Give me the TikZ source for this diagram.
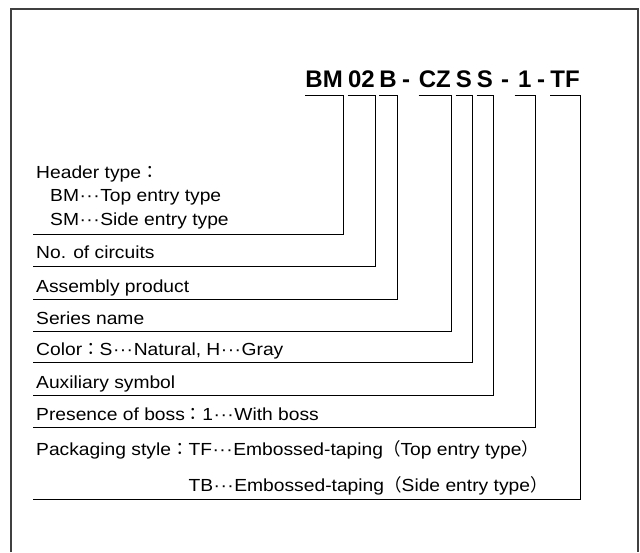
\documentclass[tikz,border=0pt]{standalone}
\usepackage{fontspec}
\setmainfont[FakeStretch=1.1]{Liberation Sans}
\newfontfamily\codefont{Liberation Sans}
\newfontfamily\cjk{Noto Sans CJK JP}
\newcommand{\fc}{{\cjk ：}}
\newcommand{\tdots}{\hspace{0.6pt}·\hspace{0.4pt}·\hspace{0.4pt}·\hspace{0.6pt}}
\newcommand{\lp}{{\cjk （}}
\newcommand{\rp}{{\cjk ）}}

\begin{document}
\begin{tikzpicture}[x=1pt,y=-1pt]
        \tikzstyle{every node}=[inner sep=0pt, text=black]
        \tikzstyle{code}=[font=\codefont\bfseries\fontsize{24}{28}\selectfont, anchor=base east]
        \tikzstyle{label}=[font=\fontsize{17.5}{21}\selectfont, anchor=base west]
        \tikzstyle{lead}=[black, line width=0.8pt]

        \useasboundingbox (0,0) rectangle (640,552);
        \draw[black!75, line width=1.2pt] (11,552) -- (11,9) -- (638,9) -- (638,552);

        % part number
        \node[code] (bm) at (343,87) {BM};
        \node[code] (nc) at (375,87) {02};
        \node[code] (ap) at (397,87) {B};
        \node[code, anchor=base] (h1) at (406,87) {-};
        \node[code] (sn) at (451,87) {CZ};
        \node[code] (cl) at (472,87) {S};
        \node[code] (ax) at (493,87) {S};
        \node[code, anchor=base] (h2) at (505,87) {-};
        \node[code, minimum width=20pt] (bs) at (535,87) {1};
        \node[code, anchor=base] (h3) at (541,87) {-};
        \node[code] (pk) at (580,87) {TF};

        % explanations
        \node[label] (hd)    at (36,178) {Header type\fc};
        \node[label] (hd-bm) at (50,201) {BM\tdots Top entry type};
        \node[label] (hd-sm) at (50,225) {SM\tdots Side entry type};
        \node[label] (nc-t)  at (36,258) {No. of circuits};
        \node[label] (ap-t)  at (36,292) {Assembly product};
        \node[label] (sn-t)  at (36,324) {Series name};
        \node[label] (cl-t)  at (36,355) {Color\fc S\tdots Natural, H\tdots Gray};
        \node[label] (ax-t)  at (36,388) {Auxiliary symbol};
        \node[label] (bs-t)  at (36,420) {Presence of boss\fc 1\tdots With boss};
        \node[label] (pk-tf) at (36,455) {Packaging style\fc TF\tdots Embossed-taping\lp Top entry type\rp};
        \node[label] (pk-tb) at (36,491) {\phantom{Packaging style\fc}TB\tdots Embossed-taping\lp Side entry type\rp};

        \coordinate (hd-l) at (33,234);
        \coordinate (nc-l) at (33,266);
        \coordinate (ap-l) at (33,299);
        \coordinate (sn-l) at (33,331);
        \coordinate (cl-l) at (33,362);
        \coordinate (ax-l) at (33,395);
        \coordinate (bs-l) at (33,427);
        \coordinate (pk-l) at (33,499);

        % leaders
        \draw[lead] ([yshift=-8pt]bm.base west) -- ([yshift=-8pt]bm.base east) |- (hd-l);
        \draw[lead] ([yshift=-8pt]nc.base west) -- ([yshift=-8pt]nc.base east) |- (nc-l);
        \draw[lead] ([yshift=-8pt]ap.base west) -- ([yshift=-8pt]ap.base east) |- (ap-l);
        \draw[lead] ([yshift=-8pt]sn.base west) -- ([yshift=-8pt]sn.base east) |- (sn-l);
        \draw[lead] ([yshift=-8pt]cl.base west) -- ([yshift=-8pt]cl.base east) |- (cl-l);
        \draw[lead] ([yshift=-8pt]ax.base west) -- ([yshift=-8pt]ax.base east) |- (ax-l);
        \draw[lead] ([yshift=-8pt]bs.base west) -- ([yshift=-8pt]bs.base east) |- (bs-l);
        \draw[lead] ([yshift=-8pt]pk.base west) -- ([yshift=-8pt]pk.base east) |- (pk-l);
\end{tikzpicture}
\end{document}
